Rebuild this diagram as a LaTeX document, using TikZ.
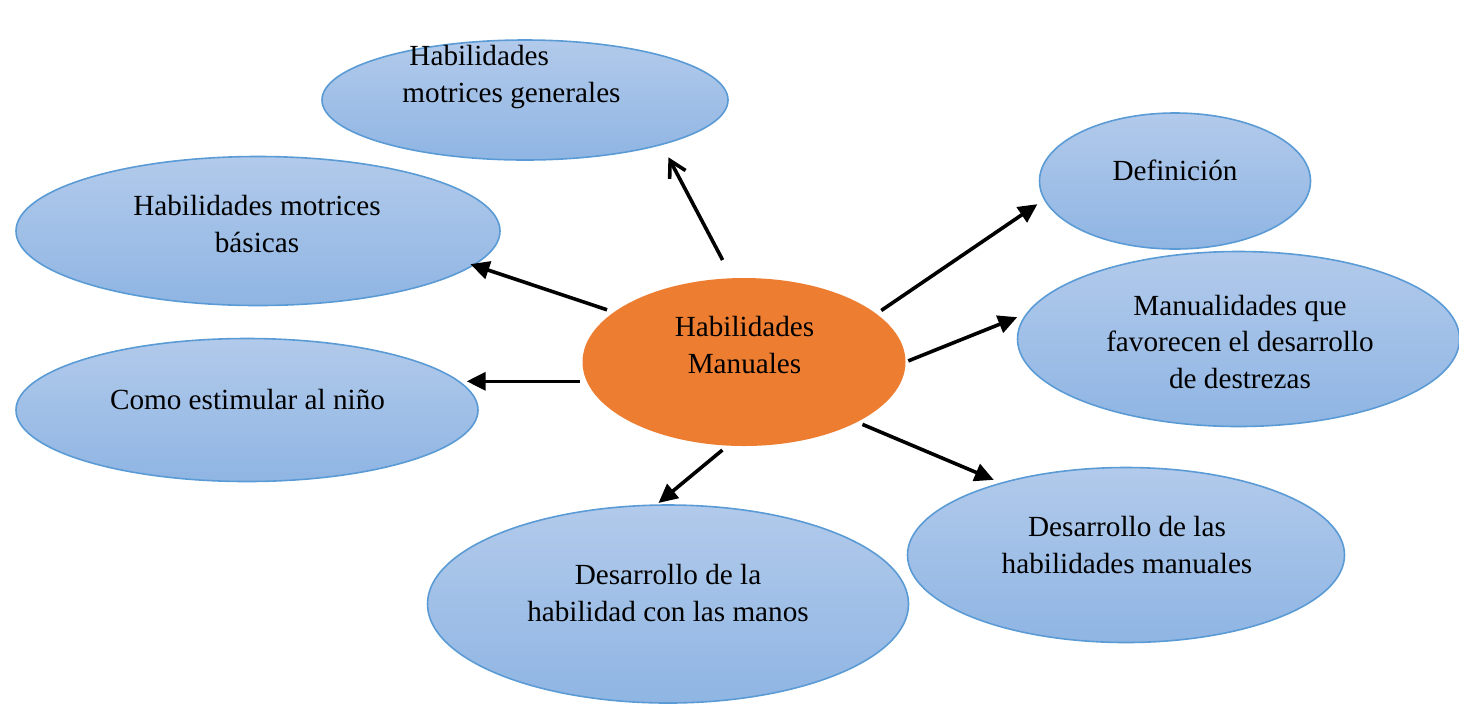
\documentclass[tikz,border=0pt]{standalone}
\usepackage{fontspec}
\setmainfont{Liberation Serif}
\usetikzlibrary{shapes.geometric, arrows.meta}

\definecolor{bubtop}{RGB}{178,202,235}
\definecolor{bubbot}{RGB}{143,181,227}
\definecolor{bubline}{RGB}{91,155,213}
\definecolor{hmorange}{RGB}{237,125,49}

\begin{document}
\begin{tikzpicture}[x=0.5pt, y=-0.5pt,
    bub/.style={ellipse, draw=bubline, line width=0.8pt, top color=bubtop, bottom color=bubbot, inner sep=0pt, outer sep=0pt},
    core/.style={ellipse, fill=hmorange, inner sep=0pt, outer sep=0pt},
    txt/.style={align=center, font=\fontsize{14.6}{18.3}\selectfont, inner sep=0pt},
    arr/.style={-{Triangle[length=9.5pt,width=9pt]}, line width=1.8pt},
    arro/.style={-{Straight Barb[length=8pt,width=9pt]}, line width=1.8pt}]
   \useasboundingbox (0,0) rectangle (1459,703);

   % nodo central
   \node[core, minimum width=161.5pt, minimum height=84pt] (hm) at (744,362) {};
   \node[txt] (thm) at (744.5,345) {Habilidades\\Manuales};

   % burbujas
   \node[bub, minimum width=203pt, minimum height=60pt] (hmg) at (525,100) {};
   \node[bub, minimum width=242pt, minimum height=74.5pt] (hmb) at (258,231) {};
   \node[bub, minimum width=231pt, minimum height=71.5pt] (est) at (247,410) {};
   \node[bub, minimum width=135.5pt, minimum height=68pt] (def) at (1175,181) {};
   \node[bub, minimum width=221pt, minimum height=87.5pt] (man) at (1238.5,339) {};
   \node[bub, minimum width=218.5pt, minimum height=87.5pt] (dhm) at (1126,555) {};
   \node[bub, minimum width=240.5pt, minimum height=99pt] (dman) at (668,604) {};

   % textos
   \node[txt, align=left] (thmg) at (511.5,77) {\hspace*{3.5pt}Habilidades\\motrices generales};
   \node[txt] (thmb) at (257,224) {Habilidades motrices\\básicas};
   \node[txt] (test) at (247.5,399) {Como estimular al niño};
   \node[txt] (tdef) at (1175,170) {Definición};
   \node[txt] (tman) at (1240,342) {Manualidades que\\favorecen el desarrollo\\de destrezas};
   \node[txt] (tdhm) at (1127,545) {Desarrollo de las\\habilidades manuales};
   \node[txt] (tdman) at (668,593) {Desarrollo de la\\habilidad con las manos};

   % flechas
   \draw[arro, shorten <=10.3pt, shorten >=7.3pt] (hm.98.4) -- (hmg.-18.1);
   \path[arr]
   (hm.159.1)  edge [shorten <=3.7pt, shorten >=-1.5pt] (hmb.-9.3)
   (hm.187.5)  edge [shorten <=3.4pt, shorten >=2.5pt] (est.7.8 |- hm.187.5)
   (hm.20.2)   edge [shorten <=3pt, shorten >=4.3pt] (def.188.5)
   (hm.-0.5)   edge [shorten <=1.5pt, shorten >=5.5pt] (man.173.8)
   (hm.-28.5)  edge [shorten <=3pt, shorten >=4.2pt] (dhm.150.2)
   (hm.-101.9) edge [shorten <=3.5pt, shorten >=1.7pt] (dman.97.8);
\end{tikzpicture}
\end{document}
